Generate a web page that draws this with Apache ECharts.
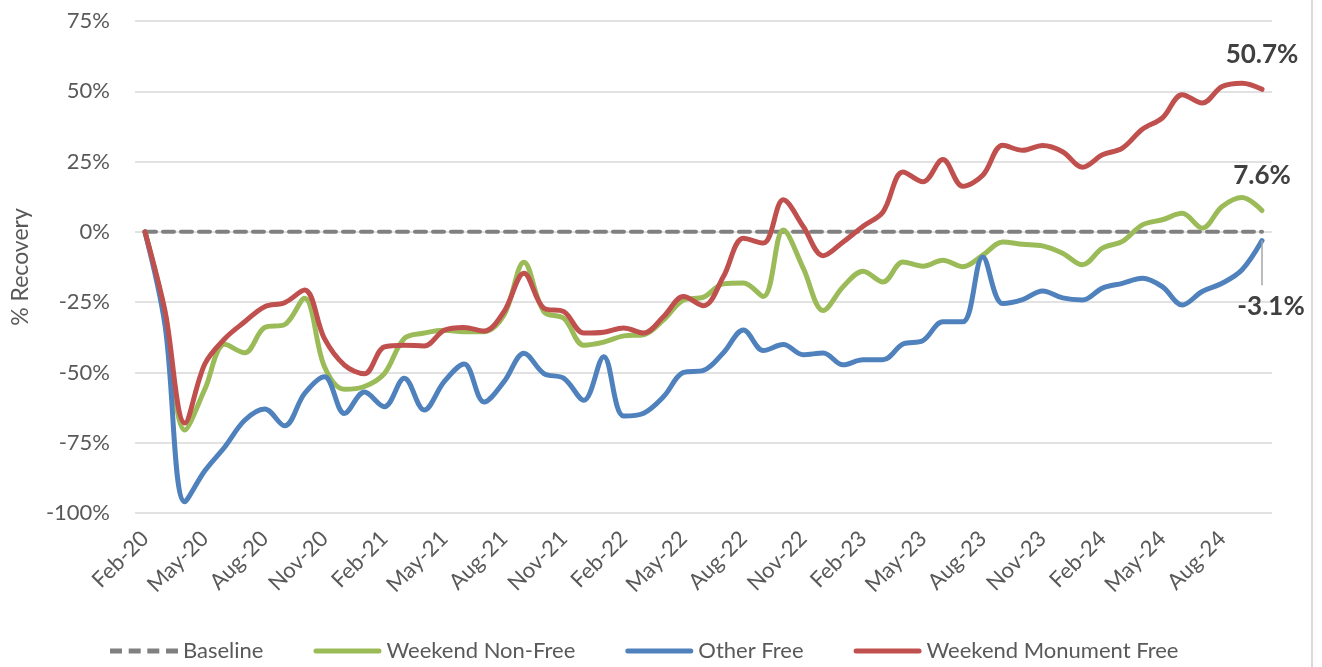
<!DOCTYPE html>
<html>
<head>
<meta charset="utf-8">
<title>% Recovery</title>
<script src="https://cdn.jsdelivr.net/npm/echarts@6/dist/echarts.min.js"></script>
<style>
  html, body { margin: 0; padding: 0; background: #fff; }
  #chart { width: 1322px; height: 667px; }
</style>
</head>
<body>
<div id="chart"></div>
<script>
// months, Feb-20 .. Oct-24
const months = [
  'Feb-20', 'Mar-20', 'Apr-20', 'May-20', 'Jun-20', 'Jul-20', 'Aug-20', 'Sep-20', 'Oct-20', 'Nov-20', 'Dec-20', 'Jan-21',
  'Feb-21', 'Mar-21', 'Apr-21', 'May-21', 'Jun-21', 'Jul-21', 'Aug-21', 'Sep-21', 'Oct-21', 'Nov-21', 'Dec-21', 'Jan-22',
  'Feb-22', 'Mar-22', 'Apr-22', 'May-22', 'Jun-22', 'Jul-22', 'Aug-22', 'Sep-22', 'Oct-22', 'Nov-22', 'Dec-22', 'Jan-23',
  'Feb-23', 'Mar-23', 'Apr-23', 'May-23', 'Jun-23', 'Jul-23', 'Aug-23', 'Sep-23', 'Oct-23', 'Nov-23', 'Dec-23', 'Jan-24',
  'Feb-24', 'Mar-24', 'Apr-24', 'May-24', 'Jun-24', 'Jul-24', 'Aug-24', 'Sep-24', 'Oct-24'
]

const baseline = months.map(() => 0)

const weekendNonFree = [
  0, -29, -70.5, -56, -40, -43, -34, -33, -23.6, -48, -56, -55,
  -50.4, -37.9, -36, -35, -35.5, -35.5, -29.6, -10.8, -28.4, -30.8, -40.3, -39.2,
  -37, -36.6, -31.3, -24.2, -23.2, -18.5, -18.2, -23, 0.7, -12.9, -28, -19.5,
  -14, -17.8, -10.7, -12.2, -10.1, -12.4, -8.3, -3.6, -4.4, -5, -7.6, -11.7,
  -5.8, -3.4, 2.5, 4.3, 6.6, 1.3, 9, 12.2, 7.6
]

const otherFree = [
  0, -33, -96, -85, -76.5, -67, -63, -69, -57.5, -51.5, -64.6, -57,
  -62.2, -52.1, -63.4, -53.3, -47, -60.5, -53.3, -43.2, -50.4, -52.1, -59.9, -44.4,
  -65.5, -64.5, -58.6, -50, -49.3, -43, -34.9, -42.2, -40.1, -43.7, -43.1, -47.3,
  -45.5, -45.5, -39.9, -38.7, -32, -32, -8.9, -25.5, -24.1, -21, -23.5, -24.2,
  -20, -18.3, -16.5, -19.5, -26, -21.2, -18.3, -13.5, -3.1
]

const weekendMonumentFree = [
  0, -28, -68, -47, -38, -32, -26.6, -25.2, -20.7, -38, -47.4, -50.5,
  -40.9, -40.3, -40.6, -35, -34, -35.3, -28.4, -14.7, -27.2, -28.4, -36, -35.7,
  -34.2, -36, -30.1, -23, -26.3, -15.9, -2.3, -4, 11.4, 1.9, -8.5, -3.6,
  2, 7.1, 21.3, 17.8, 25.7, 16.2, 20.1, 30.8, 29, 30.7, 28.5, 23,
  27.4, 29.8, 36.5, 40.5, 48.8, 45.8, 51.7, 52.9, 50.7
]

// leader line under the -3.1% label: from the last point down to the label
const leaderEnd = [56.45, -19]

const yTicks = { min: -100, max: 75, step: 25 }

const FONT = 'Lato, "Liberation Sans", sans-serif'

// legend icons: a solid bar and a four-dash bar
const ICON_SOLID = 'path://M2.5,0H65.5A2.5,2.5,0,0,1,65.5,5H2.5A2.5,2.5,0,0,1,2.5,0Z'
const ICON_DASH = 'path://M0,0H12V5H0Z M18.7,0H30.7V5H18.7Z M37.3,0H49.3V5H37.3Z M56,0H68V5H56Z'

// put a bold value label on the last point only
function lastLabel(arr, label) {
  return arr.map((v, i) => i === arr.length - 1 ? { value: v, label: label } : v)
}

const endLabelStyle = {
  show: true,
  fontFamily: FONT,
  fontSize: 26,
  fontWeight: 'bold',
  color: '#404040',
  formatter: p => p.value.toFixed(1) + '%'
}

function lineSeries(name, data, color, extra) {
  return Object.assign({
    name: name,
    type: 'line',
    data: data,
    symbol: 'circle',
    symbolSize: 0,
    showSymbol: true,
    showAllSymbol: true,
    smooth: 0.35,
    lineStyle: { color: color, width: 5, cap: 'round', join: 'round' },
    itemStyle: { color: color }
  }, extra || {})
}

const chart = echarts.init(document.getElementById('chart'))

chart.setOption({
  animation: false,
  textStyle: { fontFamily: FONT },
  grid: { left: 135, right: 50, top: 21, bottom: 154 },
  legend: {
    left: 105,
    top: 635,
    itemWidth: 68,
    itemHeight: 5,
    itemGap: 50,
    symbolKeepAspect: false,
    textStyle: { fontFamily: FONT, fontSize: 22, color: '#595959' },
    data: [
      { name: 'Baseline', icon: ICON_DASH, itemStyle: { color: '#808080' } },
      { name: 'Weekend Non-Free', icon: ICON_SOLID, itemStyle: { color: '#9bbb59' } },
      { name: 'Other Free', icon: ICON_SOLID, itemStyle: { color: '#4f81bd' } },
      { name: 'Weekend Monument Free', icon: ICON_SOLID, itemStyle: { color: '#c0504d' } }
    ]
  },
  xAxis: {
    type: 'category',
    data: months,
    boundaryGap: true,
    axisLine: { show: false },
    axisTick: { show: false },
    axisLabel: {
      interval: 2,
      rotate: 45,
      margin: 22,
      fontSize: 22,
      color: '#595959',
      fontFamily: FONT
    }
  },
  yAxis: {
    type: 'value',
    min: yTicks.min,
    max: yTicks.max,
    interval: yTicks.step,
    name: '% Recovery',
    nameLocation: 'middle',
    nameGap: 103,
    nameTextStyle: { fontSize: 23, color: '#595959', fontFamily: FONT },
    axisLine: { show: false },
    axisTick: { show: false },
    axisLabel: {
      formatter: '{value}%',
      margin: 25,
      fontSize: 22,
      color: '#595959',
      fontFamily: FONT
    },
    splitLine: { lineStyle: { color: '#d9d9d9', width: 1.5 } }
  },
  graphic: [{
    type: 'line',
    shape: { x1: 1312, y1: 0, x2: 1312, y2: 667 },
    style: { stroke: '#d9d9d9', lineWidth: 2 }
  }],
  series: [
    {
      name: 'Baseline',
      type: 'line',
      data: baseline,
      symbol: 'none',
      lineStyle: { color: '#808080', width: 4, type: [11, 7], cap: 'round' },
      itemStyle: { color: '#808080' }
    },
    lineSeries('Weekend Non-Free',
      lastLabel(weekendNonFree, Object.assign({ position: 'top', distance: 22 }, endLabelStyle)),
      '#9bbb59'),
    lineSeries('Other Free',
      lastLabel(otherFree, Object.assign({ position: 'bottom', distance: 5, offset: [9, 48] }, endLabelStyle)),
      '#4f81bd',
      {
        markLine: {
          silent: true,
          symbol: 'none',
          label: { show: false },
          lineStyle: { color: '#a6a6a6', width: 1.5, type: 'solid' },
          data: [[
            { coord: [otherFree.length - 1, otherFree[otherFree.length - 1]] },
            { coord: leaderEnd }
          ]]
        }
      }),
    lineSeries('Weekend Monument Free',
      lastLabel(weekendMonumentFree, Object.assign({ position: 'top', distance: 22 }, endLabelStyle)),
      '#c0504d')
  ]
})
</script>
</body>
</html>
